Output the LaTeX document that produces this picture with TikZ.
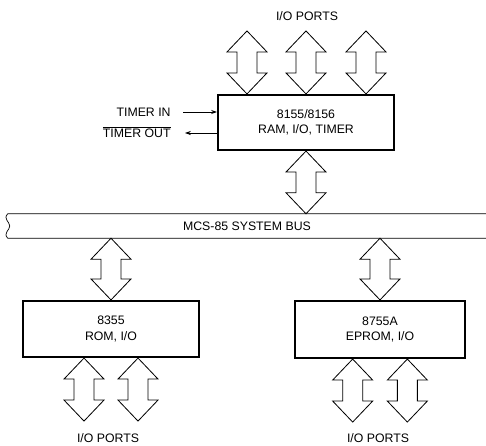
\documentclass[tikz,border=0pt]{standalone}
\usepackage{fontspec}
\setmainfont{Liberation Sans}
\usepackage{tikz}
\usetikzlibrary{positioning,calc,arrows.meta}

\tikzset{
  chip/.style={draw, line width=1.8pt, align=center, font=\fontsize{10.5}{13}\selectfont},
  port/.style={line width=0.7pt, line join=miter},
  lbl/.style={font=\fontsize{10.5}{13}\selectfont, inner sep=1pt},
  sig/.style={line width=0.6pt, -{Stealth[length=5pt,width=3.5pt]}},
}
% wide two-way arrow, tip #1 on top, tip #2 below
\newcommand{\ioarrow}[2]{%
\draw[port] let \p1=(#1), \p2=(#2) in
 (\x1,\y1) -- (\x1-0.6cm,\y1-0.63cm) -- (\x1-0.3cm,\y1-0.63cm) -- (\x1-0.3cm,\y2+0.63cm)
 -- (\x1-0.6cm,\y2+0.63cm) -- (\x1,\y2) -- (\x1+0.6cm,\y2+0.63cm) -- (\x1+0.3cm,\y2+0.63cm)
 -- (\x1+0.3cm,\y1-0.63cm) -- (\x1+0.6cm,\y1-0.63cm) -- cycle;}

\begin{document}
\begin{tikzpicture}[x=0.03cm, y=-0.03cm]
\useasboundingbox (0,0) rectangle (486,445);
%----------------------------------
\node[chip, minimum width=5.28cm, minimum height=1.65cm] (ram) at (306,122.5) {8155/8156\\RAM, I/O, TIMER};
\node[lbl, minimum width=14.34cm, minimum height=0.72cm] (bus) at (247,226) {MCS-85 SYSTEM BUS};
\node[chip, minimum width=5.28cm, minimum height=1.68cm] (rom) at (111,329) {8355\\ROM, I/O};
\node[chip, minimum width=5.1cm, minimum height=1.71cm] (eprom) at (380,329.5) {8755A\\EPROM, I/O};
%----------------------------------
\node[lbl, anchor=east] (tin) at (172,112) {TIMER IN};
\node[lbl, anchor=base east] (tout) at (172,137) {$\overline{\mbox{TIMER OUT}}$};
\coordinate (tin-e) at (183,112);
\coordinate (tout-e) at (185,133);
\draw[sig] (tin-e) -- (tin-e -| ram.west);
\draw[sig] (tout-e -| ram.west) -- (tout-e);
%----------------------------------
\coordinate[above=1.89cm of ram.north] (q2);
\coordinate[left=1.77cm of q2] (q1);
\coordinate[right=1.8cm of q2] (q3);
\node[lbl] (pt) at (307,16) {I/O PORTS};
\ioarrow{q1}{q1 |- ram.north}
\ioarrow{q2}{ram.north}
\ioarrow{q3}{q3 |- ram.north}
%----------------------------------
\draw[line width=0.6pt] (bus.north east) -- (bus.north west)
  .. controls +(-5,5) and +(0,-4) .. ($(bus.west)+(2,0)$)
  .. controls +(0,4) and +(-5,-5) .. (bus.south west) -- (bus.south east);
\ioarrow{ram.south}{ram.south |- bus.north}
\ioarrow{rom.north |- bus.south}{rom.north}
\ioarrow{eprom.north |- bus.south}{eprom.north}
%----------------------------------
\coordinate[left=0.81cm of rom.south] (r1);
\coordinate[right=0.81cm of rom.south] (r2);
\coordinate[below=1.89cm of r1] (s1);
\coordinate[below=1.89cm of r2] (s2);
\ioarrow{r1}{s1}
\ioarrow{r2}{s2}
\node[lbl] (pl) at (108,438) {I/O PORTS};
%----------------------------------
\coordinate[left=0.82cm of eprom.south] (r3);
\coordinate[right=0.82cm of eprom.south] (r4);
\coordinate[below=1.89cm of r3] (s3);
\coordinate[below=1.89cm of r4] (s4);
\ioarrow{r3}{s3}
\ioarrow{r4}{s4}
\node[lbl] (pr) at (378,438) {I/O PORTS};
\end{tikzpicture}
\end{document}
